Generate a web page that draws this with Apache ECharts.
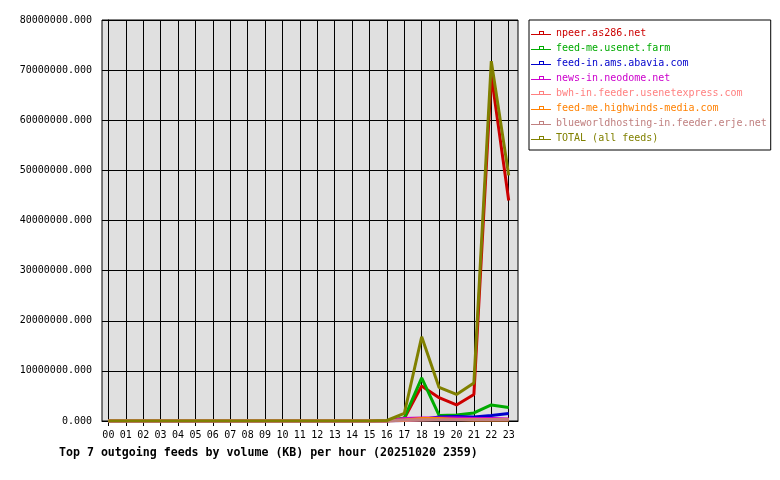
<!DOCTYPE html>
<html>
<head>
<meta charset="utf-8">
<script src="https://cdn.jsdelivr.net/npm/echarts@6/dist/echarts.min.js"></script>
<style>
  html, body { margin: 0; padding: 0; background: #fff; }
  #main { width: 780px; height: 480px; }
</style>
</head>
<body>
<div id="main"></div>
<script>
// hours 00..23
var hours = ['00','01','02','03','04','05','06','07','08','09','10','11',
             '12','13','14','15','16','17','18','19','20','21','22','23'];

var feedNames = [
    'npeer.as286.net',
    'feed-me.usenet.farm',
    'feed-in.ams.abavia.com',
    'news-in.neodome.net',
    'bwh-in.feeder.usenetexpress.com',
    'feed-me.highwinds-media.com',
    'blueworldhosting-in.feeder.erje.net',
    'TOTAL (all feeds)'
];
var feedColors = ['#cc0000', '#00aa00', '#0000cc', '#cc00cc', '#ff8080', '#ff8000', '#c08080', '#808000'];

// KB per hour
var npeer     = [0,0,0,0,0,0,0,0,0,0,0,0,0,0,0,0,0, 500000, 7000000, 4650000, 3200000, 5300000, 69000000, 44000000];
var usenetFarm= [0,0,0,0,0,0,0,0,0,0,0,0,0,0,0,0,0, 600000, 8600000, 1100000, 1200000, 1600000, 3200000, 2700000];
var abavia    = [0,0,0,0,0,0,0,0,0,0,0,0,0,0,0,0,0, 100000, 300000, 800000, 900000, 800000, 1100000, 1500000];
var neodome   = [0,0,0,0,0,0,0,0,0,0,0,0,0,0,0,0,0, 500000, 600000, 600000, 600000, 500000, 500000, 400000];
var usenetExp = [0,0,0,0,0,0,0,0,0,0,0,0,0,0,0,0,0, 100000, 200000, 300000, 300000, 300000, 300000, 300000];
var highwinds = [0,0,0,0,0,0,0,0,0,0,0,0,0,0,0,0,0, 200000, 500000, 500000, 300000, 200000, 200000, 200000];
var erje      = [0,0,0,0,0,0,0,0,0,0,0,0,0,0,0,0,0, 200000, 250000, 250000, 250000, 250000, 250000, 250000];
var total     = [0,0,0,0,0,0,0,0,0,0,0,0,0,0,0,0,100000, 1500000, 16800000, 6700000, 5300000, 7600000, 71800000, 49000000];

var feedValues = [npeer, usenetFarm, abavia, neodome, usenetExp, highwinds, erje, total];

var myChart = echarts.init(document.getElementById('main'), null, { renderer: 'canvas' });

var mono = 'DejaVu Sans Mono';

// legend icon: thin line with a small box on it
var legendIcon = 'path://M0,4L20,4L20,5L0,5Z M8,1L13,1L13,4L8,4Z M9,2L9,4L12,4L12,2Z';

var option = {
    animation: false,
    backgroundColor: '#fff',
    title: {
        text: 'Top 7 outgoing feeds by volume (KB) per hour (20251020 2359)',
        left: 59,
        top: 447,
        padding: 0,
        textStyle: {
            fontFamily: mono,
            fontWeight: 'bold',
            fontSize: 11.6,
            color: '#000'
        }
    },
    legend: {
        orient: 'vertical',
        left: 529,
        top: 20,
        padding: [7, 4, 6, 2],
        itemGap: 3,
        itemWidth: 20,
        itemHeight: 4,
        icon: legendIcon,
        borderColor: '#000',
        borderWidth: 1,
        backgroundColor: '#fff',
        itemStyle: { borderWidth: 0 },
        selectedMode: false,
        textStyle: {
            fontFamily: mono,
            fontSize: 10,
            lineHeight: 12
        },
        data: feedNames.map(function (n, i) {
            return { name: n, textStyle: { color: feedColors[i] } };
        })
    },
    grid: {
        left: 102,
        right: 262,
        top: 20,
        bottom: 59,
        show: true,
        backgroundColor: '#e0e0e0',
        borderColor: '#000',
        borderWidth: 1
    },
    xAxis: {
        type: 'value',
        min: -0.367,
        max: 23.534,
        axisLine: { show: true, lineStyle: { color: '#000', width: 1 } },
        axisTick: {
            show: true,
            length: 5,
            lineStyle: { color: '#000' },
            customValues: hours.map(function (h, i) { return i; })
        },
        axisLabel: {
            customValues: hours.map(function (h, i) { return i; }),
            formatter: function (v) { return hours[Math.round(v)]; },
            fontFamily: mono,
            fontSize: 10,
            color: '#000',
            margin: 9
        },
        splitLine: { show: true, lineStyle: { color: '#000', width: 1 } }
    },
    yAxis: {
        type: 'value',
        min: 0,
        max: 80000000,
        interval: 10000000,
        axisLine: { show: true, lineStyle: { color: '#000', width: 1 } },
        axisTick: { show: true, length: 5, lineStyle: { color: '#000' } },
        axisLabel: {
            formatter: function (v) { return v + '.000'; },
            fontFamily: mono,
            fontSize: 10,
            color: '#000',
            margin: 10
        },
        splitLine: { show: true, lineStyle: { color: '#000', width: 1 } }
    },
    series: feedNames.map(function (n, i) {
        return {
            name: n,
            type: 'line',
            color: feedColors[i],
            showSymbol: false,
            symbol: 'none',
            lineStyle: { width: 3, color: feedColors[i] },
            itemStyle: { color: feedColors[i] },
            data: feedValues[i].map(function (v, h) { return [h, v]; })
        };
    })
};

myChart.setOption(option);
</script>
</body>
</html>
